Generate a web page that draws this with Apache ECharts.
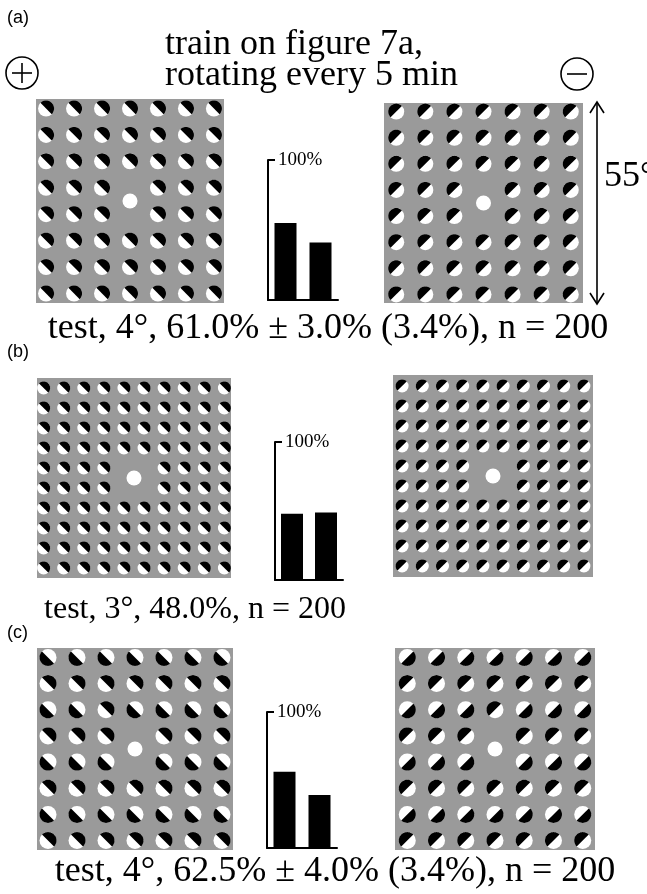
<!DOCTYPE html>
<html>
<head>
<meta charset="utf-8">
<script src="https://cdn.jsdelivr.net/npm/echarts@6/dist/echarts.min.js"></script>
<style>
  html, body { margin: 0; padding: 0; background: #fff; }
  #chart { width: 647px; height: 894px; }
</style>
</head>
<body>
<div id="chart"></div>
<script>
// half-black dot patterns, one string per row ('.' = no dot)
// A: black upper-right, B: black lower-left, C: black upper-left, D: black lower-right
const aLeftDots = ['AAAAAAA', 'AAAAAAA', 'AAAAAAA', 'AAA.AAA', 'AAA.AAA', 'AAAAAAA', 'AAAAAAA', 'AAAAAAA']
const aRightDots = ['CCCCCCC', 'CCCCCCC', 'CCCCCCC', 'CCC.CCC', 'CCC.CCC', 'CCCCCCC', 'CCCCCCC', 'CCCCCCC']
const bLeftDots = [
  'AAAAAAAAAA', 'AAAAAAAAAA', 'AAAAAAAAAA', 'AAAAAAAAAA', 'AAAA..AAAA',
  'AAAA..AAAA', 'AAAAAAAAAA', 'AAAAAAAAAA', 'AAAAAAAAAA', 'AAAAAAAAAA'
]
const bRightDots = [
  'CCCCCCCCCC', 'CCCCCCCCCC', 'CCCCCCCCCC', 'CCCCCCCCCC', 'CCCC..CCCC',
  'CCCC..CCCC', 'CCCCCCCCCC', 'CCCCCCCCCC', 'CCCCCCCCCC', 'CCCCCCCCCC'
]
const cLeftDots = ['BBBBBBB', 'AAAAAAA', 'BBABBBB', 'AAA.AAA', 'BBB.BBB', 'AAAAAAA', 'BBBBBBB', 'AAAAAAA']
const cRightDots = ['DDDDDDD', 'CCCCCCC', 'DDDCDDD', 'CCC.CCC', 'DDD.DDD', 'CCCCCCC', 'DDDDDDD', 'CCCCCCC']

// fixation point (col, row) for each square
const aFix = [3, 3.5]
const bFix = [4.5, 4.5]
const cFix = [3, 3.5]

// bar heights in % of the 100% tick
const barCats = ['+', '\u2212']
const aBars = [55, 41]
const bBars = [48, 49]
const cBars = [56, 39]

const SERIF = '"Liberation Serif", "DejaVu Serif", serif'
const SANS = '"Liberation Sans", "DejaVu Sans", sans-serif'
const GRAY = '#9a9a9a'
// screen-space direction (y down) of the black half
const ANGLES = { A: -Math.PI / 4, B: 3 * Math.PI / 4, C: -3 * Math.PI / 4, D: Math.PI / 4 }
const TYPES = ['A', 'B', 'C', 'D']

const squares = [
  { dots: aLeftDots, fix: aFix, left: 36, top: 99, width: 188, height: 204, padX: 0.36, padY: 0.36, r: 8 },
  { dots: aRightDots, fix: aFix, left: 384, top: 103, width: 199, height: 200, padX: 0.42, padY: 0.33, r: 8 },
  { dots: bLeftDots, fix: bFix, left: 37, top: 378, width: 194, height: 200, padX: 0.33, padY: 0.5, r: 6.5 },
  { dots: bRightDots, fix: bFix, left: 393, top: 375, width: 200, height: 202, padX: 0.45, padY: 0.55, r: 6.5 },
  { dots: cLeftDots, fix: cFix, left: 37, top: 648, width: 196, height: 202, padX: 0.38, padY: 0.36, r: 8.5 },
  { dots: cRightDots, fix: cFix, left: 395, top: 648, width: 200, height: 202, padX: 0.42, padY: 0.36, r: 8.5 }
]
const barPanels = [
  { data: aBars, left: 268, top: 160, width: 70, height: 140 },
  { data: bBars, left: 275, top: 442, width: 68, height: 138 },
  { data: cBars, left: 267, top: 712, width: 70, height: 136 }
]

function dotData(rows) {
  const out = []
  rows.forEach((row, r) => {
    row.split('').forEach((ch, c) => {
      if (ch !== '.') out.push([c, r, TYPES.indexOf(ch)])
    })
  })
  return out
}

function halfDisk(cx, cy, r, a) {
  const pts = []
  for (let k = 0; k <= 24; k++) {
    const t = a - Math.PI / 2 + (Math.PI * k) / 24
    pts.push([cx + r * Math.cos(t), cy + r * Math.sin(t)])
  }
  return pts
}

function renderDot(radius) {
  return function (params, api) {
    const p = api.coord([api.value(0), api.value(1)])
    const a = ANGLES[TYPES[api.value(2)]]
    return {
      type: 'group',
      children: [
        { type: 'circle', shape: { cx: p[0], cy: p[1], r: radius }, style: { fill: '#fff' } },
        { type: 'polygon', shape: { points: halfDisk(p[0], p[1], radius, a) }, style: { fill: '#000' } }
      ]
    }
  }
}

const grid = [], xAxis = [], yAxis = [], series = []

squares.forEach((sq, i) => {
  const nRows = sq.dots.length
  const nCols = sq.dots[0].length
  grid.push({
    left: sq.left, top: sq.top, width: sq.width, height: sq.height,
    show: true, backgroundColor: GRAY, borderWidth: 0
  })
  xAxis.push({ gridIndex: i, type: 'value', min: -sq.padX, max: nCols - 1 + sq.padX, show: false })
  yAxis.push({ gridIndex: i, type: 'value', inverse: true, min: -sq.padY, max: nRows - 1 + sq.padY, show: false })
  series.push({
    type: 'custom', xAxisIndex: i, yAxisIndex: i,
    renderItem: renderDot(sq.r),
    data: dotData(sq.dots),
    silent: true
  })
  series.push({
    type: 'scatter', xAxisIndex: i, yAxisIndex: i,
    symbolSize: 15, itemStyle: { color: '#fff', opacity: 1 },
    data: [sq.fix], silent: true
  })
})

barPanels.forEach((bp, k) => {
  const i = squares.length + k
  grid.push({ left: bp.left, top: bp.top, width: bp.width, height: bp.height })
  xAxis.push({
    gridIndex: i, type: 'category', data: barCats,
    axisLine: { lineStyle: { color: '#000', width: 2 } },
    axisTick: { show: false }, axisLabel: { show: false }
  })
  yAxis.push({
    gridIndex: i, type: 'value', min: 0, max: 100, interval: 100,
    axisLine: { show: true, lineStyle: { color: '#000', width: 2 } },
    axisTick: { show: true, inside: true, length: 7, lineStyle: { color: '#000', width: 2 } },
    axisLabel: {
      inside: true, margin: 10, color: '#000', fontFamily: SERIF, fontSize: 19,
      formatter: v => (v === 100 ? '100%' : '')
    },
    splitLine: { show: false }
  })
  series.push({
    type: 'bar', xAxisIndex: i, yAxisIndex: i,
    barWidth: 22, itemStyle: { color: '#000' },
    data: bp.data, silent: true
  })
})

function txt(text, x, y, size, family, align) {
  return {
    type: 'text', x, y, silent: true,
    style: { text, font: size + 'px ' + family, fill: '#000', align: align || 'left', verticalAlign: 'middle' }
  }
}

function signCircle(cx, cy, plus) {
  const kids = [
    { type: 'circle', shape: { cx, cy, r: 16 }, style: { fill: 'none', stroke: '#000', lineWidth: 1.6 } },
    { type: 'line', shape: { x1: cx - 10, y1: cy, x2: cx + 10, y2: cy }, style: { stroke: '#000', lineWidth: 1.6 } }
  ]
  if (plus) kids.push({ type: 'line', shape: { x1: cx, y1: cy - 10, x2: cx, y2: cy + 10 }, style: { stroke: '#000', lineWidth: 1.6 } })
  return { type: 'group', silent: true, children: kids }
}

const graphic = [
  txt('(a)', 7, 18, 18, SANS),
  txt('(b)', 7, 352, 18, SANS),
  txt('(c)', 7, 633, 18, SANS),
  txt('train on figure 7a,', 165, 45, 36, SERIF),
  txt('rotating every 5 min', 165, 76, 36, SERIF),
  txt('test, 4\u00b0, 61.0% \u00b1 3.0% (3.4%), n = 200', 328, 329, 36, SERIF, 'center'),
  txt('test, 3\u00b0, 48.0%, n = 200', 195, 610, 32, SERIF, 'center'),
  txt('test, 4\u00b0, 62.5% \u00b1 4.0% (3.4%), n = 200', 335, 872, 36, SERIF, 'center'),
  txt('55\u00b0', 604, 177, 36, SERIF),
  signCircle(22, 73, true),
  signCircle(577, 74, false),
  {
    type: 'group', silent: true,
    children: [
      { type: 'line', shape: { x1: 597, y1: 102, x2: 597, y2: 304 }, style: { stroke: '#000', lineWidth: 1.6 } },
      { type: 'polyline', shape: { points: [[590, 113], [597, 102], [604, 113]] }, style: { stroke: '#000', lineWidth: 1.6, fill: 'none' } },
      { type: 'polyline', shape: { points: [[590, 293], [597, 304], [604, 293]] }, style: { stroke: '#000', lineWidth: 1.6, fill: 'none' } }
    ]
  }
]

const chart = echarts.init(document.getElementById('chart'))
chart.setOption({
  animation: false,
  backgroundColor: '#fff',
  grid, xAxis, yAxis, series, graphic
})
</script>
</body>
</html>
